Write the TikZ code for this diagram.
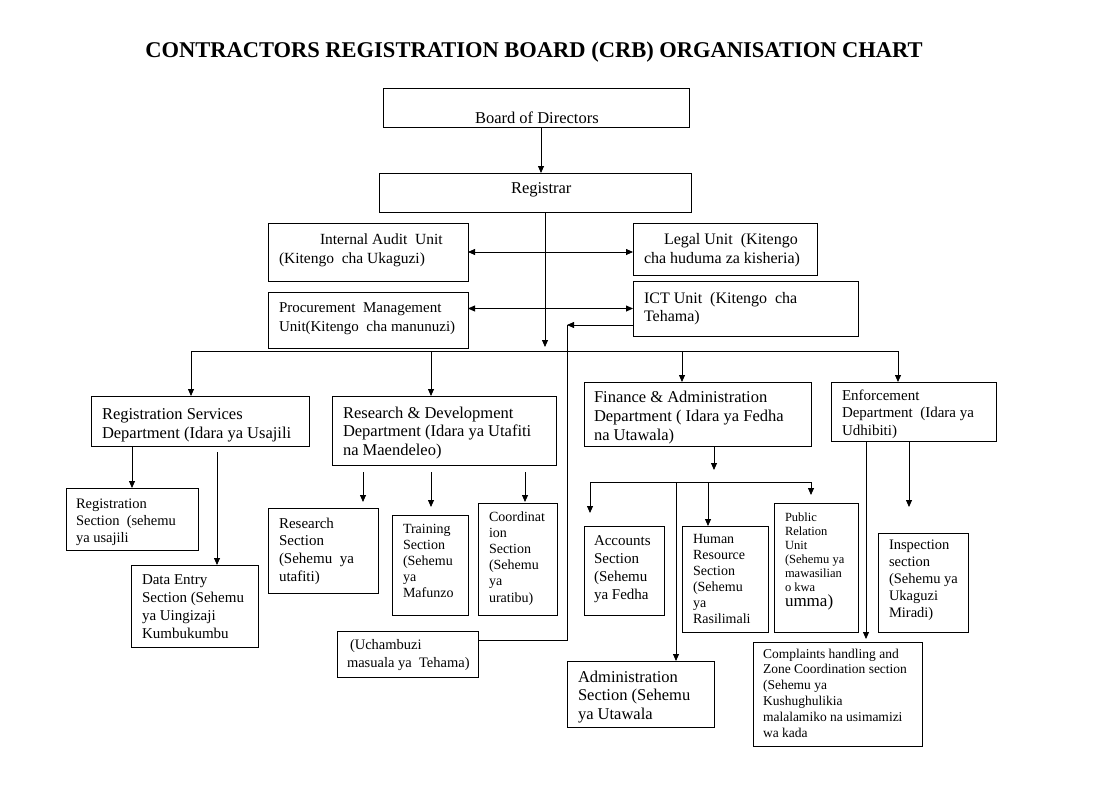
\documentclass[tikz,border=0pt]{standalone}
\usepackage{fontspec}
\setmainfont{Liberation Serif}
\usetikzlibrary{arrows.meta}
\tikzset{
  box/.style={draw, line width=1pt, inner sep=0pt, outer sep=0pt},
  lbl/.style={anchor=base west, inner sep=0pt, outer sep=0pt},
  arr/.style={-{Triangle[length=7pt,width=6pt]}, line width=0.8pt},
  dbl/.style={{Triangle[length=7pt,width=6pt]}-{Triangle[length=7pt,width=6pt]}, line width=0.8pt},
  ln/.style={line width=0.8pt}
}
\newcommand{\B}[5]{\node[box, anchor=north west, minimum width={(#4-#2)*1pt}, minimum height={(#5-#3)*1pt}] (#1) at (#2,#3) {};}
\newcommand{\T}[6]{\node[lbl] (#1) at (#2,#3) {\fontsize{#4pt}{#5pt}\selectfont\begin{tabular}[t]{@{}l@{}}#6\end{tabular}};}
\begin{document}
\begin{tikzpicture}[x=1pt,y=-1pt]
\fill[white] (0,0) rectangle (1093,787);
\useasboundingbox (0,0) rectangle (1093,787);

\node[anchor=base, inner sep=0pt, font=\fontsize{22.5pt}{27pt}\selectfont\bfseries] (title) at (534,57) {CONTRACTORS REGISTRATION BOARD (CRB) ORGANISATION CHART};

% boxes
\B{board}{383}{88}{689}{127}
\B{reg}{379}{173}{691}{212}
\B{ia}{268}{223}{468}{281}
\B{legal}{633}{223}{817}{275}
\B{proc}{268}{292}{468}{348}
\B{ict}{633}{281}{858}{336}
\B{rsd}{91}{396}{309}{446}
\B{rd}{332}{396}{556}{465}
\B{fa}{584}{382}{811}{446}
\B{enf}{831}{382}{996}{441}
\B{regsec}{66}{488}{198}{550}
\B{de}{131}{565}{258}{647}
\B{rsec}{268}{508}{378}{593}
\B{tsec}{392}{515}{468}{615}
\B{csec}{478}{503}{557}{615}
\B{uch}{337}{631}{478}{677}
\B{acc}{584}{526}{664}{615}
\B{hr}{682}{526}{768}{632}
\B{pr}{774}{503}{858}{632}
\B{adm}{567}{661}{714}{727}
\B{insp}{878}{533}{968}{632}
\B{comp}{753}{642}{922}{746}

% texts
\T{tboard}{475}{123}{16.5}{19}{Board of Directors}
\T{treg}{511}{193}{16.5}{19}{Registrar}
\T{tia}{279}{244}{15.5}{19}{\hspace*{41pt}Internal Audit\ \ Unit\\(Kitengo\ \ cha Ukaguzi)}
\T{tproc}{279}{312}{15}{19}{Procurement\ \ Management\\Unit(Kitengo\ \ cha manunuzi)}
\T{tlegal}{644}{244}{16}{19}{\hspace*{20pt}Legal Unit\ \ (Kitengo\\cha huduma za kisheria)}
\T{tict}{644}{303}{16}{18.5}{ICT Unit\ \ (Kitengo\ \ cha\\Tehama)}
\T{trsd}{102}{419}{16.5}{19}{Registration Services\\Department (Idara ya Usajili}
\T{trd}{343}{418}{16.5}{18.5}{Research \& Development\\Department (Idara ya Utafiti\\na Maendeleo)}
\T{tfa}{594}{402}{16.5}{19}{Finance \& Administration\\Department ( Idara ya Fedha\\na Utawala)}
\T{tenf}{842}{400}{15}{17.5}{Enforcement\\Department\ \ (Idara ya\\Udhibiti)}
\T{tregsec}{76}{508}{14.5}{17}{Registration\\Section\ \ (sehemu\\ya usajili}
\T{tde}{142}{584}{15}{18}{Data Entry\\Section (Sehemu\\ya Uingizaji\\Kumbukumbu}
\T{trsec}{279}{528}{15}{17.7}{Research\\Section\\(Sehemu\ \ ya\\utafiti)}
\T{ttsec}{403}{533}{14}{16.2}{Training\\Section\\(Sehemu\\ya\\Mafunzo}
\T{tcsec}{489}{521}{14}{16.2}{Coordinat\\ion\\Section\\(Sehemu\\ya\\uratibu)}
\T{tuch}{347}{649}{14.5}{18}{\hspace*{3pt}(Uchambuzi\\masuala ya\ \ Tehama)}
\T{tacc}{594}{545}{15}{18}{Accounts\\Section\\(Sehemu\\ya Fedha}
\T{thr}{693}{543}{14}{16}{Human\\Resource\\Section\\(Sehemu\\ya\\Rasilimali}
\T{tpr}{785}{521}{12.5}{14}{Public\\Relation\\Unit\\(Sehemu ya\\mawasilian\\o kwa\\{\fontsize{17pt}{17pt}\selectfont umma)}}
\T{tinsp}{889}{549}{14.5}{17}{Inspection\\section\\(Sehemu ya\\Ukaguzi\\Miradi)}
\T{tadm}{578}{682}{16.5}{18.5}{Administration\\Section (Sehemu\\ya Utawala}
\T{tcomp}{763}{658}{13.5}{15.8}{Complaints handling and\\Zone Coordination section\\(Sehemu ya\\Kushughulikia\\malalamiko na usimamizi\\wa kada}

% connectors: top
\draw[arr] ([xshift=5pt]board.south) -- ([xshift=5pt]board.south |- reg.north);
\coordinate (regend) at (545,347);
\draw[arr] (reg.south -| regend) -- (regend);
\draw[dbl] (ia.east) -- (ia.east -| legal.west);
\draw[dbl] (ict.west -| proc.east) -- (ict.west);
\coordinate (ictc) at (567,325);
\coordinate (uchc) at (567,640);
\draw[arr] (ict.west |- ictc) -- (ictc);
\draw[ln] (ictc) -- (uchc) -- (uchc -| uch.east);

% main bus
\coordinate (b1) at (191,351);
\coordinate (b2) at (431,351);
\coordinate (b3) at (682,351);
\coordinate (b4) at (898,351);
\draw[ln] (b1) -- (b4);
\draw[arr] (b1) -- (b1 |- rsd.north);
\draw[arr] (b2) -- (b2 |- rd.north);
\draw[arr] (b3) -- (b3 |- fa.north);
\draw[arr] (b4) -- (b4 |- enf.north);

% registration services
\draw[arr] (regsec.north |- rsd.south) -- (regsec.north);
\coordinate (dec) at (217,452);
\draw[arr] (dec) -- (dec |- de.north);

% research & development
\coordinate (r1) at (363,472);
\coordinate (r2) at (431,472);
\coordinate (r3) at (525,472);
\draw[arr, shorten >=6pt] (r1) -- (r1 |- rsec.north);
\draw[arr, shorten >=8pt] (r2) -- (r2 |- tsec.north);
\draw[arr, shorten >=1pt] (r3) -- (r3 |- csec.north);

% finance & administration
\coordinate (f0) at (714,470);
\draw[arr] (fa.south -| f0) -- (f0);
\coordinate (s1) at (590,482);
\coordinate (s2) at (676,482);
\coordinate (s3) at (708,482);
\coordinate (s4) at (811,482);
\draw[ln] (s1) -- (s4);
\draw[arr, shorten >=13pt] (s1) -- (s1 |- acc.north);
\draw[arr] (s2) -- (s2 |- adm.north);
\draw[arr] (s3) -- (s3 |- hr.north);
\draw[arr, shorten >=8pt] (s4) -- (s4 |- pr.north);

% enforcement
\coordinate (e1) at (866,441);
\coordinate (e2) at (909,441);
\draw[arr, shorten >=3pt] (e1) -- (e1 |- comp.north);
\draw[arr, shorten >=26pt] (e2) -- (e2 |- insp.north);
\end{tikzpicture}
\end{document}
